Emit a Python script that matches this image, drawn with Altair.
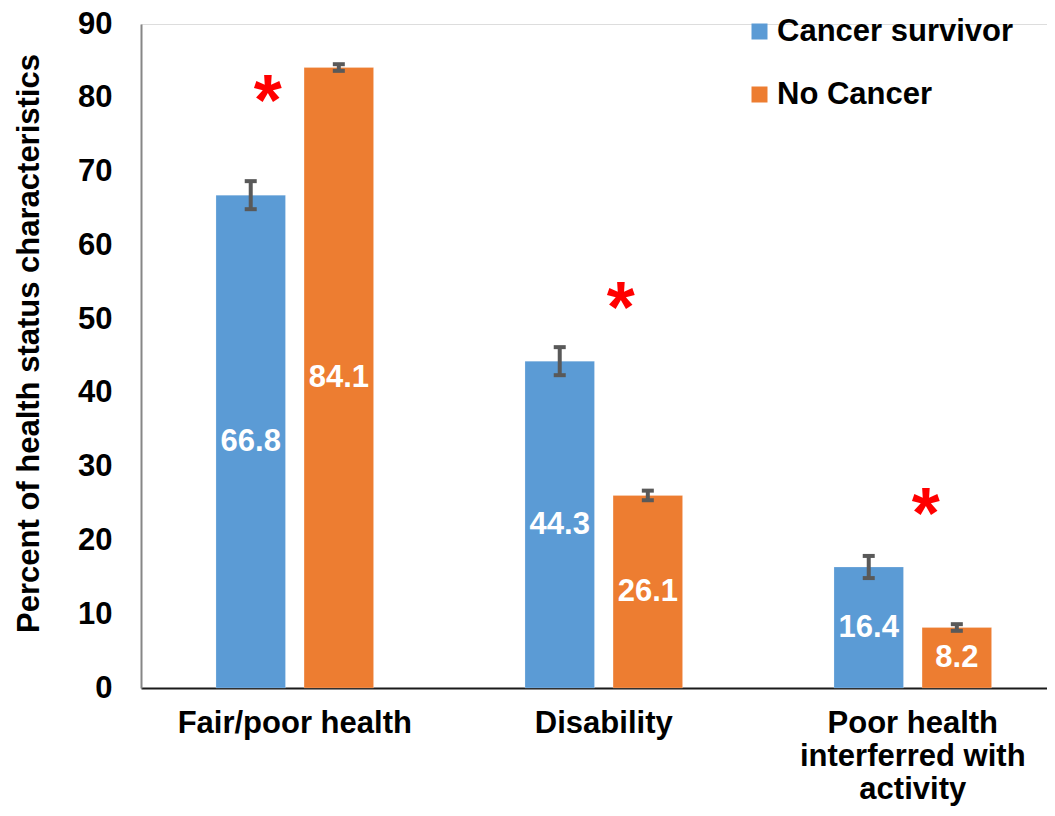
import altair as alt
import pandas as pd

categories = ["Fair/poor health", "Disability", "Poor health interferred with activity"]
groups = ["Cancer survivor", "No Cancer"]
survivor = [66.8, 44.3, 16.4]
no_cancer = [84.1, 26.1, 8.2]
survivor_err = [1.9, 1.9, 1.5]
no_cancer_err = [0.45, 0.65, 0.45]
star_group = ["Cancer survivor", "No Cancer", "No Cancer"]
star_y = [81.0, 53.0, 25.1]
star_dx = [17, -27, -31]
colors = ["#5B9BD5", "#ED7D31"]

rows = []
for i, c in enumerate(categories):
    rows.append({"category": c, "group": groups[0], "value": survivor[i], "err": survivor_err[i]})
    rows.append({"category": c, "group": groups[1], "value": no_cancer[i], "err": no_cancer_err[i]})
df = pd.DataFrame(rows)
df["lo"] = df["value"] - df["err"]
df["hi"] = df["value"] + df["err"]
df["mid"] = df["value"] / 2

stars = pd.DataFrame({"category": categories, "group": star_group, "y": star_y, "dx": star_dx})

FONT = "Liberation Sans"
FS = 31

x_enc = alt.X(
    "category:N",
    sort=categories,
    scale=alt.Scale(paddingInner=0.49, paddingOuter=0.211, align=0.575),
    axis=alt.Axis(
        title=None,
        labelAngle=0,
        labelFont=FONT,
        labelFontSize=FS,
        labelFontWeight="bold",
        labelColor="#000000",
        labelPadding=20,
        labelLimit=400,
        labelLineHeight=33,
        labelBaseline="top",
        labelExpr="datum.value == 'Poor health interferred with activity' ? ['Poor health', 'interferred with', 'activity'] : datum.label",
        ticks=False,
        tickSize=0,
        domainColor="#1a1a1a",
        domainWidth=2,
    ),
)
xo_enc = alt.XOffset("group:N", sort=groups, scale=alt.Scale(paddingInner=0.211, paddingOuter=0))
y_scale = alt.Scale(domain=[0, 90], nice=False)
y_axis = alt.Axis(
    title="Percent of health status characteristics",
    values=list(range(0, 91, 10)),
    grid=False,
    ticks=False,
    tickSize=0,
    labelFont=FONT,
    labelFontSize=FS,
    labelFontWeight="bold",
    labelColor="#000000",
    labelPadding=29,
    domainColor="#868686",
    domainWidth=2,
    titleFont=FONT,
    titleFontSize=FS,
    titleFontWeight="bold",
    titleColor="#000000",
    titleAngle=-90,
    titleAlign="center",
    titleBaseline="alphabetic",
    titleX=-103,
    titleY=319,
)

base = alt.Chart(df)

bars = base.mark_bar(stroke="#ffffff", strokeWidth=0.5, strokeOpacity=0.4).encode(
    x=x_enc,
    xOffset=xo_enc,
    y=alt.Y("value:Q", scale=y_scale, axis=y_axis),
    color=alt.Color(
        "group:N",
        sort=groups,
        scale=alt.Scale(domain=groups, range=colors),
        legend=alt.Legend(
            title=None,
            orient="none",
            legendX=603,
            legendY=-8,
            symbolType="square",
            symbolSize=256,
            symbolStrokeWidth=0,
            labelFont=FONT,
            labelFontSize=FS,
            labelFontWeight="bold",
            labelColor="#000000",
            labelOffset=2,
            rowPadding=31,
            labelLimit=400,
        ),
    ),
)

labels = base.mark_text(
    font=FONT, fontSize=FS, fontWeight="bold", color="#ffffff", baseline="middle", align="center"
).encode(
    x=alt.X("category:N", sort=categories),
    xOffset=alt.XOffset("group:N", sort=groups),
    y=alt.Y("mid:Q"),
    text=alt.Text("value:Q", format=".1f"),
)

stems = base.mark_rule(color="#595959", strokeWidth=4).encode(
    x=alt.X("category:N", sort=categories),
    xOffset=alt.XOffset("group:N", sort=groups),
    y=alt.Y("lo:Q"),
    y2="hi:Q",
)
cap_lo = base.mark_tick(color="#595959", size=12, thickness=4, opacity=1).encode(
    x=alt.X("category:N", sort=categories),
    xOffset=alt.XOffset("group:N", sort=groups),
    y=alt.Y("lo:Q"),
)
cap_hi = base.mark_tick(color="#595959", size=12, thickness=4, opacity=1).encode(
    x=alt.X("category:N", sort=categories),
    xOffset=alt.XOffset("group:N", sort=groups),
    y=alt.Y("hi:Q"),
)

star_layers = []
for i in range(len(categories)):
    s = alt.Chart(stars.iloc[[i]]).mark_text(
        text="*", font=FONT, fontSize=72, fontWeight="bold", color="#FF0000",
        baseline="alphabetic", align="center", dx=star_dx[i], dy=35,
    ).encode(
        x=alt.X("category:N", sort=categories),
        xOffset=alt.XOffset("group:N", sort=groups),
        y=alt.Y("y:Q"),
    )
    star_layers.append(s)

chart = alt.layer(bars, labels, stems, cap_lo, cap_hi, *star_layers).properties(
    width=906,
    height=664,
    autosize=alt.AutoSizeParams(type="none"),
    padding={"left": 133, "top": 16, "right": 0, "bottom": 122},
).configure_view(stroke=None).configure(background="#ffffff")

chart.save("out.html", embed_options={"renderer": "svg", "actions": False})
